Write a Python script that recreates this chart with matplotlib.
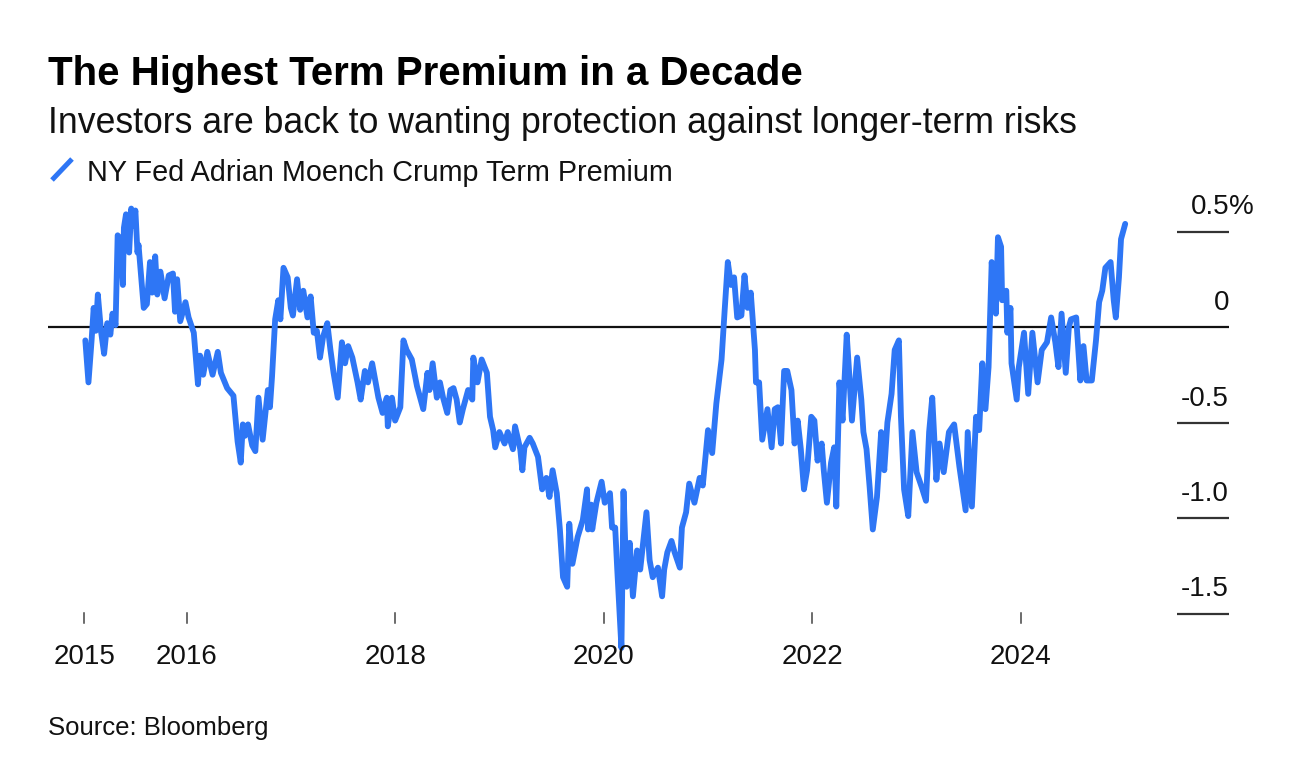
import matplotlib
matplotlib.use("Agg")
import matplotlib.pyplot as plt
from matplotlib.lines import Line2D

# ---------------- data ----------------
years = [2015.03, 2015.06, 2015.09, 2015.11, 2015.13, 2015.15, 2015.18, 2015.21, 2015.24, 2015.27,
         2015.29, 2015.32, 2015.34, 2015.37, 2015.39, 2015.40, 2015.42, 2015.45, 2015.47, 2015.49,
         2015.51, 2015.53, 2015.54, 2015.56, 2015.59, 2015.62, 2015.65, 2015.67, 2015.70, 2015.72,
         2015.75, 2015.79, 2015.83, 2015.87, 2015.89, 2015.91, 2015.94, 2015.99, 2016.02, 2016.07,
         2016.11, 2016.13, 2016.16, 2016.20, 2016.25, 2016.30, 2016.33, 2016.39, 2016.45, 2016.49,
         2016.52, 2016.54, 2016.56, 2016.59, 2016.63, 2016.66, 2016.69, 2016.73, 2016.78, 2016.80,
         2016.82, 2016.85, 2016.88, 2016.90, 2016.93, 2016.97, 2017.00, 2017.02, 2017.06, 2017.09,
         2017.12, 2017.16, 2017.19, 2017.22, 2017.25, 2017.28, 2017.31, 2017.35, 2017.38, 2017.41,
         2017.45, 2017.49, 2017.52, 2017.55, 2017.59, 2017.64, 2017.67, 2017.71, 2017.74, 2017.78,
         2017.81, 2017.84, 2017.88, 2017.92, 2017.93, 2017.97, 2018.00, 2018.05, 2018.08, 2018.11,
         2018.16, 2018.21, 2018.24, 2018.27, 2018.31, 2018.33, 2018.36, 2018.40, 2018.43, 2018.46,
         2018.50, 2018.53, 2018.56, 2018.59, 2018.62, 2018.65, 2018.70, 2018.74, 2018.75, 2018.79,
         2018.83, 2018.88, 2018.91, 2018.94, 2018.96, 2019.00, 2019.05, 2019.08, 2019.13, 2019.15,
         2019.20, 2019.22, 2019.24, 2019.29, 2019.32, 2019.37, 2019.41, 2019.45, 2019.48, 2019.51,
         2019.55, 2019.58, 2019.61, 2019.65, 2019.67, 2019.70, 2019.75, 2019.80, 2019.84, 2019.85,
         2019.88, 2019.89, 2019.93, 2019.98, 2020.01, 2020.06, 2020.08, 2020.11, 2020.13, 2020.17,
         2020.19, 2020.22, 2020.25, 2020.28, 2020.32, 2020.35, 2020.37, 2020.41, 2020.44, 2020.47,
         2020.52, 2020.56, 2020.58, 2020.61, 2020.65, 2020.68, 2020.73, 2020.75, 2020.79, 2020.82,
         2020.87, 2020.92, 2020.95, 2021.00, 2021.04, 2021.08, 2021.13, 2021.16, 2021.19, 2021.22,
         2021.25, 2021.28, 2021.32, 2021.35, 2021.38, 2021.41, 2021.45, 2021.46, 2021.49, 2021.52,
         2021.57, 2021.61, 2021.64, 2021.67, 2021.70, 2021.73, 2021.76, 2021.80, 2021.83, 2021.86,
         2021.89, 2021.92, 2021.95, 2021.99, 2022.02, 2022.05, 2022.09, 2022.11, 2022.14, 2022.18,
         2022.21, 2022.23, 2022.26, 2022.29, 2022.33, 2022.35, 2022.38, 2022.43, 2022.47, 2022.49,
         2022.52, 2022.55, 2022.58, 2022.62, 2022.66, 2022.69, 2022.72, 2022.76, 2022.79, 2022.83,
         2022.85, 2022.88, 2022.92, 2022.96, 2023.00, 2023.05, 2023.09, 2023.12, 2023.15, 2023.19,
         2023.22, 2023.26, 2023.31, 2023.36, 2023.41, 2023.47, 2023.49, 2023.53, 2023.57, 2023.60,
         2023.63, 2023.66, 2023.69, 2023.72, 2023.76, 2023.78, 2023.81, 2023.82, 2023.86, 2023.87,
         2023.90, 2023.91, 2023.96, 2023.98, 2024.03, 2024.07, 2024.11, 2024.16, 2024.20, 2024.25,
         2024.29, 2024.33, 2024.36, 2024.39, 2024.43, 2024.46, 2024.48, 2024.53, 2024.57, 2024.60,
         2024.63, 2024.68, 2024.72, 2024.75, 2024.78, 2024.81, 2024.86, 2024.89, 2024.91, 2024.94,
         2024.96, 2025.00]

term_premium = [-0.07, -0.29, -0.07, 0.10, -0.02, 0.17, -0.02, -0.14, 0.02, -0.04,
                0.07, 0.01, 0.48, 0.46, 0.22, 0.52, 0.59, 0.39, 0.62, 0.53,
                0.61, 0.39, 0.43, 0.30, 0.10, 0.12, 0.34, 0.18, 0.37, 0.17,
                0.29, 0.15, 0.27, 0.28, 0.08, 0.25, 0.03, 0.13, 0.05, -0.03,
                -0.30, -0.15, -0.25, -0.13, -0.25, -0.13, -0.24, -0.32, -0.36, -0.60,
                -0.71, -0.51, -0.57, -0.51, -0.62, -0.65, -0.37, -0.59, -0.33, -0.42,
                -0.26, 0.04, 0.14, 0.04, 0.31, 0.26, 0.10, 0.06, 0.25, 0.09,
                0.19, 0.05, 0.16, -0.03, -0.02, -0.16, -0.05, 0.02, -0.12, -0.24,
                -0.37, -0.08, -0.19, -0.10, -0.16, -0.29, -0.38, -0.23, -0.29, -0.19,
                -0.28, -0.37, -0.45, -0.37, -0.52, -0.37, -0.49, -0.42, -0.07, -0.12,
                -0.17, -0.31, -0.37, -0.43, -0.24, -0.33, -0.19, -0.37, -0.29, -0.37,
                -0.45, -0.33, -0.32, -0.38, -0.50, -0.43, -0.33, -0.38, -0.16, -0.29,
                -0.17, -0.24, -0.47, -0.54, -0.63, -0.55, -0.61, -0.55, -0.64, -0.52,
                -0.64, -0.75, -0.63, -0.58, -0.61, -0.68, -0.85, -0.79, -0.89, -0.75,
                -0.87, -1.06, -1.31, -1.36, -1.03, -1.24, -1.10, -1.01, -0.85, -1.06,
                -0.93, -1.06, -0.92, -0.81, -0.92, -0.87, -1.05, -1.05, -1.27, -1.68,
                -0.86, -1.36, -1.13, -1.41, -1.17, -1.27, -1.17, -0.97, -1.22, -1.31,
                -1.26, -1.41, -1.27, -1.18, -1.12, -1.18, -1.26, -1.05, -0.97, -0.82,
                -0.92, -0.79, -0.83, -0.54, -0.66, -0.40, -0.17, 0.09, 0.34, 0.22,
                0.26, 0.05, 0.06, 0.27, 0.10, 0.18, -0.12, -0.29, -0.29, -0.59,
                -0.43, -0.63, -0.43, -0.42, -0.61, -0.23, -0.23, -0.33, -0.61, -0.49,
                -0.64, -0.85, -0.75, -0.47, -0.49, -0.70, -0.61, -0.75, -0.92, -0.71,
                -0.63, -0.94, -0.29, -0.49, -0.04, -0.21, -0.49, -0.16, -0.38, -0.55,
                -0.64, -0.84, -1.06, -0.89, -0.55, -0.75, -0.50, -0.35, -0.12, -0.07,
                -0.47, -0.85, -0.99, -0.55, -0.76, -0.84, -0.91, -0.55, -0.37, -0.80,
                -0.61, -0.76, -0.55, -0.51, -0.73, -0.96, -0.55, -0.94, -0.47, -0.54,
                -0.19, -0.43, -0.21, 0.34, 0.07, 0.47, 0.42, 0.14, 0.19, -0.03,
                0.10, -0.19, -0.38, -0.21, -0.03, -0.35, -0.03, -0.29, -0.12, -0.08,
                0.05, -0.08, -0.21, 0.07, -0.24, 0.00, 0.04, 0.05, -0.28, -0.10,
                -0.28, -0.28, -0.07, 0.13, 0.19, 0.31, 0.34, 0.14, 0.05, 0.26,
                0.46, 0.54]

x_ticks = [2015.02, 2016, 2018, 2020, 2022, 2024]
x_tick_labels = ["2015", "2016", "2018", "2020", "2022", "2024"]
y_ticks = [0.5, 0.0, -0.5, -1.0, -1.5]
y_tick_labels = ["0.5", "0", "-0.5", "-1.0", "-1.5"]

title = "The Highest Term Premium in a Decade"
subtitle = "Investors are back to wanting protection against longer-term risks"
series_name = "NY Fed Adrian Moench Crump Term Premium"
source = "Source: Bloomberg"

# ---------------- layout ----------------
W, H = 1300, 764
BLUE = "#2e76f5"
FONT = ["Liberation Sans", "DejaVu Sans"]
plt.rcParams["font.family"] = FONT

fig = plt.figure(figsize=(W / 100, H / 100), dpi=100)
fig.patch.set_facecolor("white")
ax = fig.add_axes([0, 0, 1, 1])
ax.set_axis_off()

X2016, PX_YEAR = 186.5, 104.3
Y0, PX_UNIT = 327.0, 191.0
ax.set_xlim(2016 - X2016 / PX_YEAR, 2016 + (W - X2016) / PX_YEAR)
ax.set_ylim(-(H - Y0) / PX_UNIT, Y0 / PX_UNIT)


def px2x(px):
    return 2016 + (px - X2016) / PX_YEAR


def py2y(py):
    return (Y0 - py) / PX_UNIT


# zero line and right-side tick lines
for v in y_ticks:
    left = 48 if v == 0 else 1177
    ax.plot([px2x(left), px2x(1229)], [v, v], color="#111111" if v == 0 else "#333333",
            lw=1.6, solid_capstyle="butt", zorder=2)

# series
ax.plot(years, term_premium, color=BLUE, lw=4.2, solid_joinstyle="round",
        solid_capstyle="round", zorder=3)

# x tick marks
for xt in x_ticks:
    ax.plot([xt, xt], [py2y(613), py2y(623)], color="#444444", lw=1.1, zorder=2)

renderer = fig.canvas.get_renderer()


def fit_text(x_px, y_px, s, target_w, ha="left", **kw):
    t = fig.text(x_px / W, 1 - y_px / H, s, ha=ha, va="baseline", **kw)
    w = t.get_window_extent(renderer).width
    t.set_fontsize(t.get_fontsize() * target_w / w)
    return t


fit_text(48, 85, title, 755, fontsize=28, fontweight="bold", color="black")
fit_text(48, 133, subtitle, 1027, fontsize=22, color="#111111")
fit_text(87, 181, series_name, 584, fontsize=18, color="#111111")
fit_text(48, 735, source, 220, fontsize=16, color="#111111")

# legend slash
fig.add_artist(Line2D([52 / W, 72 / W], [1 - 180 / H, 1 - 159 / H], color=BLUE, lw=3.6,
                      solid_capstyle="butt"))

# x tick labels
for xt, lab in zip(x_ticks, x_tick_labels):
    ax.text(xt, py2y(664), lab, ha="center", va="baseline", fontsize=20, color="#111111")

# y tick labels
for v, lab in zip(y_ticks, y_tick_labels):
    ax.text(px2x(1229), v + 17 / PX_UNIT, lab, ha="right", va="baseline", fontsize=20,
            color="#111111")
    if v == 0.5:
        ax.text(px2x(1229), v + 17 / PX_UNIT, "%", ha="left", va="baseline", fontsize=20,
                color="#111111")

fig.savefig("out.png", dpi=100, facecolor="white")
